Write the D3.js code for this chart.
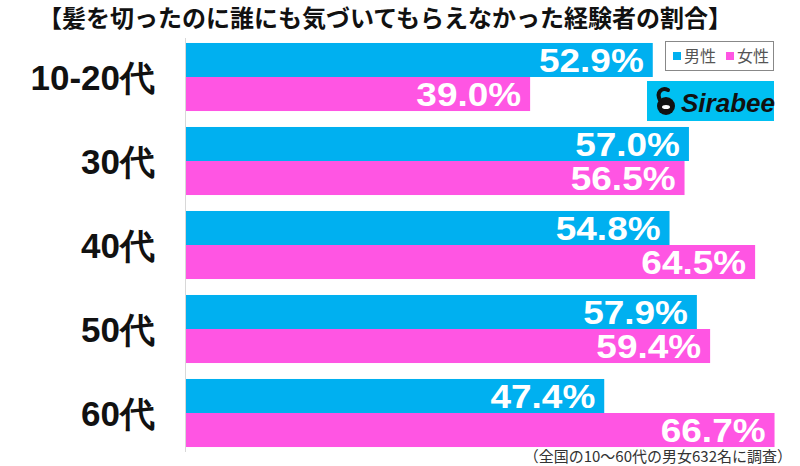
<!DOCTYPE html>
<html>
<head>
<meta charset="utf-8">
<script src="https://cdn.jsdelivr.net/npm/d3@7"></script>
<style>
  body { margin: 0; background: #fff; }
  svg { display: block; }
</style>
</head>
<body>
<script>
// data
const categories = ["10-20代", "30代", "40代", "50代", "60代"];
const seriesNames = ["男性", "女性"];
const maleValues = [52.9, 57.0, 54.8, 57.9, 47.4];
const femaleValues = [39.0, 56.5, 64.5, 59.4, 66.7];

const title = "【髪を切ったのに誰にも気づいてもらえなかった経験者の割合】";
const note = "（全国の10〜60代の男女632名に調査）";

const width = 800, height = 466;
const colors = { "男性": "#00b0f0", "女性": "#ff55e3" };
const numFont = "'Liberation Sans', Arial, sans-serif";
const jpFont = "'Noto Sans CJK JP', 'Noto Sans', sans-serif";

const svg = d3.select("body").append("svg")
    .attr("width", width)
    .attr("height", height);

const x = d3.scaleLinear()
    .domain([0, 68])
    .range([186, 786]);

const y = d3.scaleBand()
    .domain(categories)
    .range([35, 455])
    .paddingInner(0.19)
    .paddingOuter(0.095);

const ySub = d3.scaleBand()
    .domain(seriesNames)
    .range([0, y.bandwidth()]);

const rows = categories.map((c, i) => ({
    cat: c,
    vals: [
        { name: "男性", v: maleValues[i] },
        { name: "女性", v: femaleValues[i] }
    ]
}));

// title
svg.append("text")
    .attr("x", 385)
    .attr("y", 27)
    .attr("text-anchor", "middle")
    .attr("font-family", jpFont)
    .attr("font-weight", "bold")
    .attr("font-size", 24)
    .attr("fill", "#111")
    .text(title);

// bars
const g = svg.selectAll("g.row")
    .data(rows)
    .enter()
    .append("g")
    .attr("class", "row")
    .attr("transform", d => `translate(0,${y(d.cat)})`);

g.selectAll("rect")
    .data(d => d.vals)
    .enter()
    .append("rect")
    .attr("x", x(0))
    .attr("y", d => ySub(d.name))
    .attr("width", d => x(d.v) - x(0))
    .attr("height", ySub.bandwidth())
    .attr("fill", d => colors[d.name]);

// value labels, a bit widened like the original's heavy font
g.selectAll("text.val")
    .data(d => d.vals)
    .enter()
    .append("text")
    .attr("class", "val")
    .attr("transform", d => `translate(${x(d.v) - 9},${ySub(d.name) + ySub.bandwidth() / 2 + 12}) scale(1.12,1)`)
    .attr("text-anchor", "end")
    .attr("font-family", numFont)
    .attr("font-weight", "bold")
    .attr("font-size", 33)
    .attr("fill", "#fff")
    .text(d => d.v.toFixed(1) + "%");

// axis line
svg.append("line")
    .attr("x1", x(0) - 0.5).attr("x2", x(0) - 0.5)
    .attr("y1", 38).attr("y2", 452)
    .attr("stroke", "#d8d8d8")
    .attr("stroke-width", 1);

// category labels
svg.selectAll("text.cat")
    .data(categories)
    .enter()
    .append("text")
    .attr("class", "cat")
    .attr("x", 155)
    .attr("y", d => y(d) + y.bandwidth() / 2 + 12.5)
    .attr("text-anchor", "end")
    .attr("font-family", numFont)
    .attr("font-weight", "bold")
    .attr("font-size", 35)
    .attr("fill", "#111")
    .text(d => d);

// legend
const lg = svg.append("g").attr("transform", "translate(665,41)");
lg.append("rect")
    .attr("x", 0.5).attr("y", 0.5)
    .attr("width", 108).attr("height", 29)
    .attr("fill", "#fff")
    .attr("stroke", "#888");
seriesNames.forEach((s, i) => {
    const item = lg.append("g").attr("transform", `translate(${8 + i * 53},0)`);
    item.append("rect")
        .attr("x", 0).attr("y", 11)
        .attr("width", 8).attr("height", 8)
        .attr("fill", colors[s]);
    item.append("text")
        .attr("x", 11).attr("y", 21)
        .attr("font-family", jpFont)
        .attr("font-size", 16)
        .attr("fill", "#555")
        .text(s);
});

// Sirabee logo
const logo = svg.append("g").attr("transform", "translate(647,81)");
logo.append("rect")
    .attr("width", 127).attr("height", 40)
    .attr("fill", "#00c0f2");
logo.append("circle")
    .attr("cx", 19).attr("cy", 25).attr("r", 9)
    .attr("fill", "#111");
logo.append("path")
    .attr("d", "M13,19 C9,11 15,6 21,9")
    .attr("fill", "none")
    .attr("stroke", "#111")
    .attr("stroke-width", 4)
    .attr("stroke-linecap", "round");
logo.append("ellipse")
    .attr("cx", 19).attr("cy", 26).attr("rx", 4).attr("ry", 2)
    .attr("fill", "#fff");
logo.append("text")
    .attr("x", 34).attr("y", 31)
    .attr("font-family", numFont)
    .attr("font-weight", "bold")
    .attr("font-style", "italic")
    .attr("font-size", 26)
    .attr("fill", "#111")
    .text("Sirabee");

// footnote
svg.append("text")
    .attr("x", 792)
    .attr("y", 462)
    .attr("text-anchor", "end")
    .attr("font-family", jpFont)
    .attr("font-size", 15)
    .attr("fill", "#333")
    .text(note);
</script>
</body>
</html>
